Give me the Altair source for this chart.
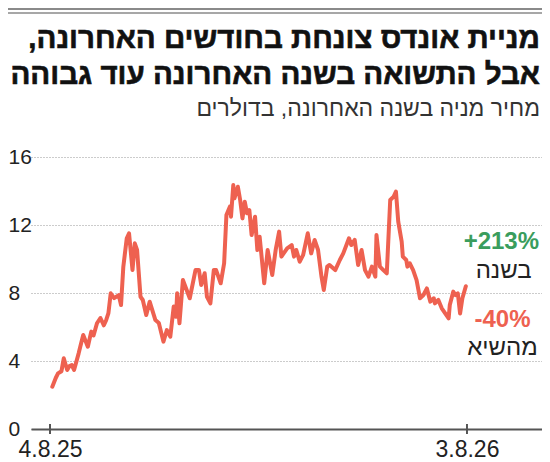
import altair as alt
import pandas as pd

# ---- data ----
days = [2, 5, 7, 10, 12, 15, 17, 19, 21, 25, 27, 29, 33, 36, 38, 41, 44, 47, 49, 51,
        53, 56, 60, 62, 64, 67, 69, 72, 74, 76, 79, 81, 84, 87, 92, 95, 99, 102, 105, 108,
        110, 111, 113, 116, 122, 127, 130, 132, 135, 137, 140, 143, 145, 149, 152, 154, 157, 158, 160, 161,
        164, 166, 168, 170, 172, 174, 176, 179, 181, 183, 187, 190, 194, 197, 200, 202, 207, 211, 213, 215,
        218, 221, 225, 228, 231, 234, 237, 239, 242, 244, 249, 253, 256, 261, 263, 266, 269, 272, 275, 278,
        281, 284, 285, 288, 291, 294, 297, 300, 302, 304, 307, 308, 311, 312, 314, 317, 320, 323, 326, 329,
        332, 335, 336, 339, 342, 345, 348, 349, 352, 354, 356, 358, 360, 363]
prices = [2.49, 3.0, 3.27, 3.4, 4.16, 3.47, 3.7, 3.76, 3.47, 4.45, 5.0, 5.53, 4.84, 5.73, 5.5, 6.22, 6.53, 6.1, 6.4, 6.82,
          7.98, 7.7, 7.88, 7.29, 9.55, 11.22, 11.51, 9.35, 10.92, 10.53, 7.78, 7.59, 6.71, 7.49, 6.41, 6.24, 5.14, 5.82, 5.43, 7.2,
          6.6, 7.98, 6.22, 8.76, 7.69, 9.35, 9.35, 8.47, 9.16, 7.78, 7.39, 9.35, 9.35, 8.57, 9.75, 12.59, 13.08, 12.49, 14.35, 13.57,
          14.25, 13.47, 12.39, 13.37, 12.69, 12.88, 11.41, 12.49, 10.53, 11.31, 8.57, 10.53, 9.06, 10.53, 11.61, 10.14, 10.63, 10.82, 10.14, 10.53,
          9.84, 10.24, 11.51, 10.33, 11.12, 10.53, 8.96, 8.18, 9.55, 9.65, 9.35, 9.94, 10.33, 11.22, 10.82, 11.12, 9.65, 10.53, 9.35, 8.96,
          9.55, 8.96, 11.41, 9.55, 9.35, 9.16, 13.47, 13.67, 13.96, 12.2, 11.02, 10.14, 9.94, 9.55, 9.75, 9.35, 8.76, 7.69, 7.88, 8.27,
          7.49, 7.69, 7.39, 7.59, 7.1, 6.8, 6.51, 7.29, 8.08, 7.88, 7.98, 6.8, 7.69, 8.4]

y_ticks = [0, 4, 8, 12, 16]
x_tick_days = [0, 364]
x_tick_labels = ["4.8.25", "3.8.26"]

title_lines = ["מניית אונדס צונחת בחודשים האחרונה,\u200f", "אבל התשואה בשנה האחרונה עוד גבוהה"]
subtitle = "מחיר מניה בשנה האחרונה, בדולרים"

pct_text = ["+213%", "-40%"]
pct_day = [394, 395]
pct_val = [11.0, 6.4]
pct_color = ["#3a9d5d", "#ee6150"]
lbl_text = ["בשנה", "מהשיא"]
lbl_day = [396, 395]
lbl_val = [9.3, 4.75]

RED = "#ee6150"
FONT = "Liberation Sans, DejaVu Sans"

df = pd.DataFrame({"day": days, "price": prices})
tick_df = pd.DataFrame({"day": x_tick_days})
pct_df = pd.DataFrame({"day": pct_day, "val": pct_val, "txt": pct_text, "col": pct_color})
lbl_df = pd.DataFrame({"day": lbl_day, "val": lbl_val, "txt": lbl_text})
one = pd.DataFrame({"a": [0]})

label_expr = "''"
for d, t in zip(reversed(x_tick_days), reversed(x_tick_labels)):
    label_expr = f"datum.value == {d} ? '{t}' : ({label_expr})"

W, H = 511, 272
xscale = alt.Scale(domain=[-16.6, 429.5], nice=False, zero=False)
yscale = alt.Scale(domain=[0, 16], nice=False)

line = alt.Chart(df).mark_line(color=RED, strokeWidth=4, strokeJoin="round", strokeCap="round").encode(
    x=alt.X("day:Q", scale=xscale,
            axis=alt.Axis(values=x_tick_days, labelExpr=label_expr, title=None, grid=False, ticks=False,
                          domainColor="#555", domainWidth=2, labelFontSize=23, labelFont=FONT,
                          labelColor="#222", labelPadding=9, labelFlush=False, labelOverlap=False)),
    y=alt.Y("price:Q", scale=yscale,
            axis=alt.Axis(values=y_ticks, title=None, domain=False, ticks=False, labelAlign="left",
                          labelPadding=23, gridDash=[1, 2], gridColor="#999", gridWidth=1,
                          labelFontSize=21, labelFont=FONT, labelColor="#222")),
)

ticks = alt.Chart(tick_df).mark_rule(color="#555", strokeWidth=2).encode(
    x=alt.X("day:Q", scale=xscale), y=alt.value(267), y2=alt.value(277)
)

top1 = alt.Chart(one).mark_rule(color="#8a8a8a", strokeWidth=2).encode(
    x=alt.value(-23), x2=alt.value(W), y=alt.value(-148)
)
top2 = alt.Chart(one).mark_rule(color="#8a8a8a", strokeWidth=1.5).encode(
    x=alt.value(-23), x2=alt.value(W), y=alt.value(-144)
)

t1 = alt.Chart(one).mark_text(text=title_lines[0], font=FONT, fontSize=29.5, fontWeight="bold", color="#111",
                              stroke="#111", strokeWidth=0.6,
                              align="right", baseline="alphabetic").encode(x=alt.value(W - 2), y=alt.value(-109))
t2 = alt.Chart(one).mark_text(text=title_lines[1], font=FONT, fontSize=29.5, fontWeight="bold", color="#111",
                              stroke="#111", strokeWidth=0.6,
                              align="right", baseline="alphabetic").encode(x=alt.value(W - 2), y=alt.value(-73))
st = alt.Chart(one).mark_text(text=subtitle, font=FONT, fontSize=23, color="#333",
                              align="right", baseline="alphabetic").encode(x=alt.value(W - 2), y=alt.value(-41))

pct = alt.Chart(pct_df).mark_text(font=FONT, fontSize=24, fontWeight="bold", align="center", baseline="middle").encode(
    x=alt.X("day:Q", scale=xscale), y=alt.Y("val:Q", scale=yscale), text="txt:N",
    color=alt.Color("col:N", scale=None)
)
lbl = alt.Chart(lbl_df).mark_text(font=FONT, fontSize=24, align="center", baseline="middle", color="#222").encode(
    x=alt.X("day:Q", scale=xscale), y=alt.Y("val:Q", scale=yscale), text="txt:N"
)

chart = alt.layer(top1, top2, t1, t2, st, line, ticks, pct, lbl).properties(
    width=W, height=H,
    autosize=alt.AutoSizeParams(type="none"),
    padding={"left": 23, "top": 149, "right": 0, "bottom": 33},
).configure_view(stroke=None)

chart.save("out.html", embed_options={"renderer": "svg", "actions": False})
